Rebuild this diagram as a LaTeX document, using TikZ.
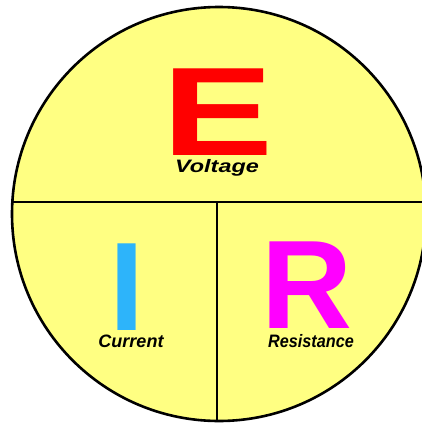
\documentclass[tikz,border=0pt]{standalone}
\usepackage{fontspec}
\setmainfont{Liberation Sans}
\definecolor{eiryellow}{RGB}{255,255,130}
\definecolor{eirred}{RGB}{255,0,0}
\definecolor{eirblue}{RGB}{45,180,250}
\definecolor{eirmag}{RGB}{255,0,255}
\begin{document}
\begin{tikzpicture}[x=1pt, y=-1pt,
  letter/.style={font=\fontsize{126}{126}\selectfont\bfseries,
                 inner sep=0pt, anchor=base, text depth=0pt},
  word/.style={font=\fontsize{18}{18}\selectfont\bfseries\itshape,
               inner sep=0pt, anchor=base, text=black,
               text height=13pt, text depth=4pt},
  rim/.style={draw=black, line width=2.6pt},
  split/.style={draw=black, line width=2.4pt}
]
\useasboundingbox (0,0) rectangle (422,423);
%% Disc
\begin{scope}
  \clip (0,0) rectangle (422,423);
  \fill[eiryellow] (219,214) circle[radius=207pt];
  \begin{scope}
    \clip (219,214) circle[radius=207pt];
    \draw[split] (0,202) -- (430,202);
    \draw[split] (217,202) -- (217,430);
  \end{scope}
  \draw[rim] (219,214) circle[radius=207pt];
\end{scope}
%% Letters
\node[letter, text=eirred, xscale=1.32] (E) at (218,155) {E};
\node[letter, text=eirblue] (I) at (127,330) {I};
\node[letter, text=eirmag] (R) at (307,328) {R};
%% Words
\node[word, xscale=1.3] (volt) at (217,172) {Voltage};
\node[word] (curr) at (131,347) {Current};
\node[word, xscale=0.9] (res) at (311,347) {Resistance};
\end{tikzpicture}
\end{document}
